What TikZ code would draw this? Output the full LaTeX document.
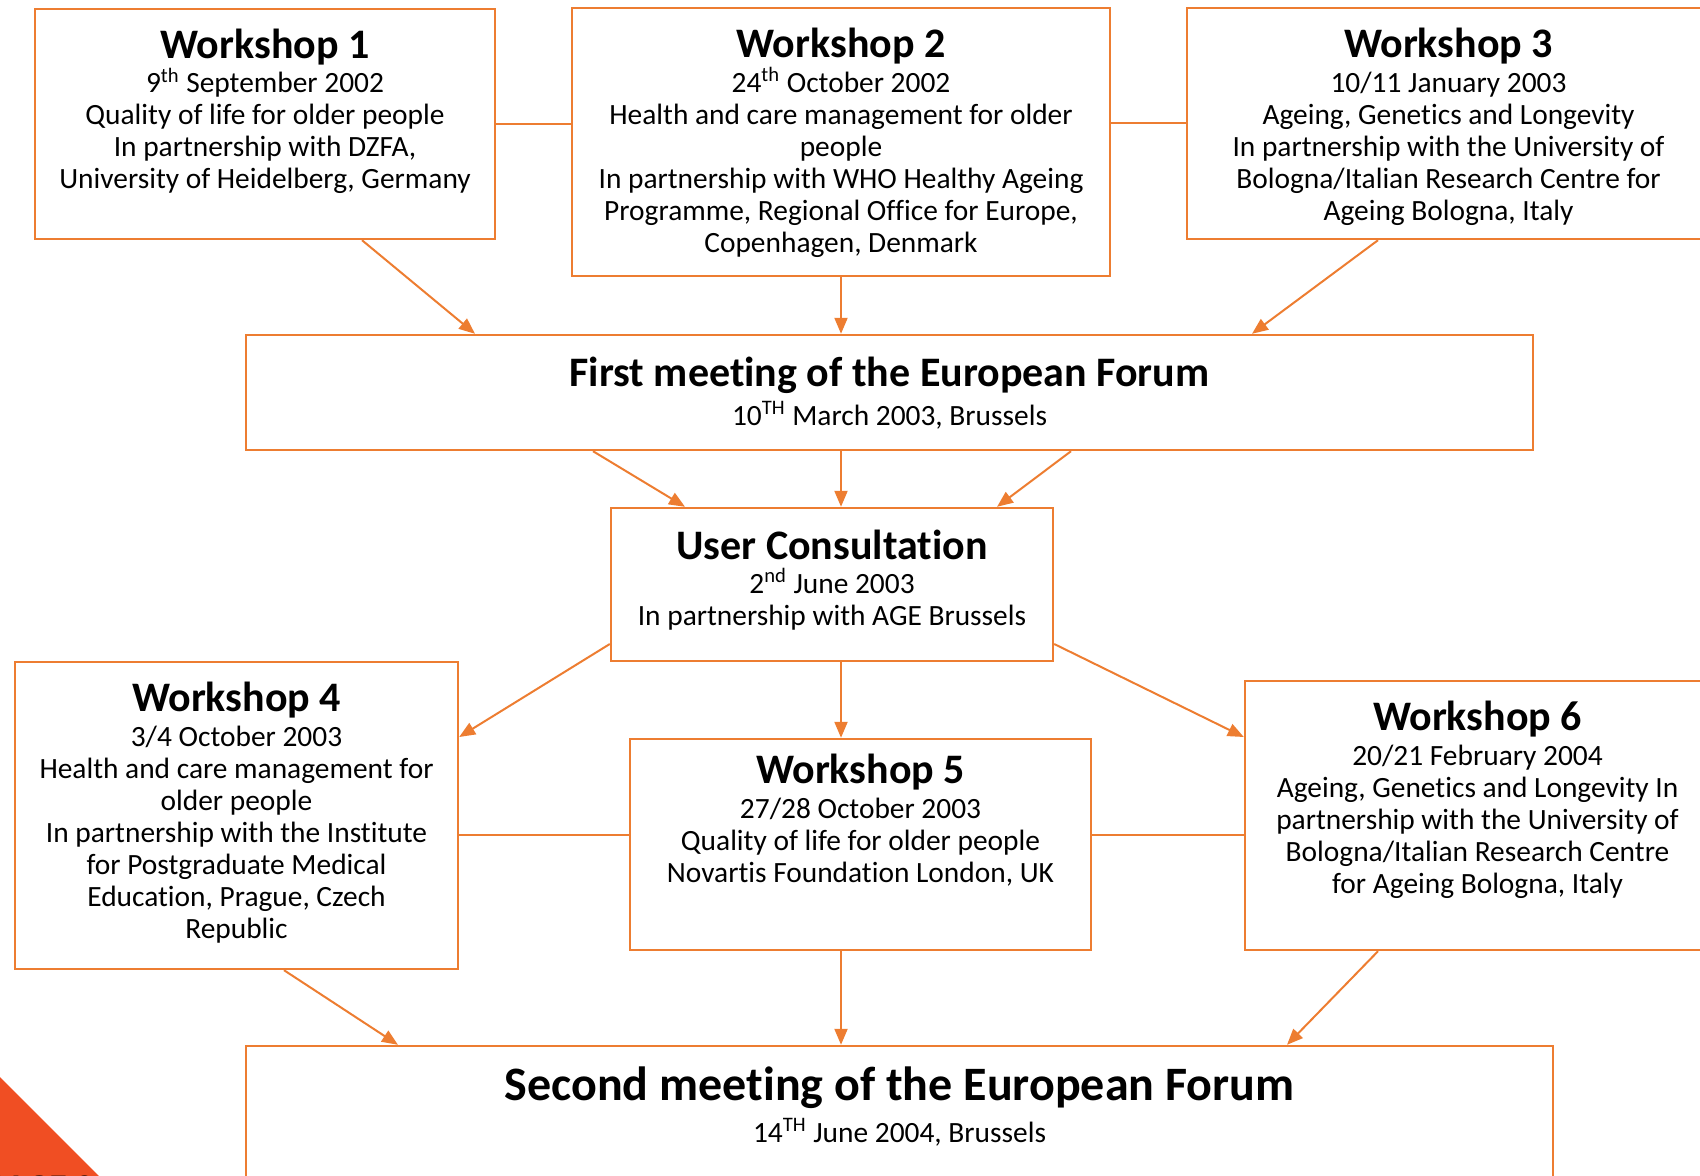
\documentclass[tikz,border=0pt]{standalone}
\usepackage{fontspec}
\setmainfont[Ligatures=NoCommon]{Carlito}
\usetikzlibrary{arrows.meta}
\definecolor{forumorange}{HTML}{ED7D31}
\definecolor{cornerred}{HTML}{F04E23}
\tikzset{
  box/.style={draw=forumorange, line width=1.2pt, fill=white, inner sep=0pt},
  info/.style={anchor=north, align=center, inner sep=0pt, font=\fontsize{14.7}{16}\selectfont},
  link/.style={draw=forumorange, line width=1pt},
  feed/.style={link, -{Triangle[length=8pt,width=6.5pt]}}
}
\newcommand{\wstitle}[1]{{\fontsize{21}{24}\selectfont\bfseries #1}}

\begin{document}
\begin{tikzpicture}[x=0.5pt,y=-0.5pt]
  \useasboundingbox (0,0) rectangle (1700,1176);
  \clip (0,0) rectangle (1700,1176);

  % Draw the corner mark
  \fill[cornerred] (0,1077) -- (99,1176) -- (0,1176) -- cycle;
  \node[anchor=north west, inner sep=0pt, font=\fontsize{18}{20}\selectfont\bfseries] (pagemark) at (-12,1175) {PAGE 2};

  % Draw the workshops before the first meeting
  \node[box, minimum width=230pt, minimum height=115pt] (w1) at (265,124) {};
  \node[box, minimum width=269pt, minimum height=134pt] (w2) at (841,142) {};
  \node[box, minimum width=261.5pt, minimum height=115.5pt] (w3) at (1448.5,123.5) {};
  \node[info] (w1text) at ([yshift=-10.5pt]w1.north) {\wstitle{Workshop 1}\\[1pt]9\textsuperscript{th} September 2002\\Quality of life for older people\\In partnership with DZFA,\\University of Heidelberg, Germany};
  \node[info] (w2text) at ([yshift=-10.3pt]w2.north) {\wstitle{Workshop 2}\\[1.5pt]24\textsuperscript{th} October 2002\\Health and care management for older\\people\\In partnership with WHO Healthy Ageing\\Programme, Regional Office for Europe,\\Copenhagen, Denmark};
  \node[info] (w3text) at ([yshift=-10.3pt]w3.north) {\wstitle{Workshop 3}\\[1.8pt]10/11 January 2003\\Ageing, Genetics and Longevity\\In partnership with the University of\\Bologna/Italian Research Centre for\\Ageing Bologna, Italy};

  % Draw the first meeting and the user consultation
  \node[box, minimum width=643.5pt, minimum height=57.5pt] (fm) at (889.5,392.5) {};
  \node[info] (fmtext) at ([yshift=-11.2pt]fm.north) {\wstitle{First meeting of the European Forum}\\[3.5pt]10\textsuperscript{TH} March 2003, Brussels};
  \node[box, minimum width=221pt, minimum height=76.5pt] (uc) at (832,584.5) {};
  \node[info] (uctext) at ([yshift=-11.2pt]uc.north) {\wstitle{User Consultation}\\[1pt]2\textsuperscript{nd} June 2003\\In partnership with AGE Brussels};

  % Draw the workshops before the second meeting
  \node[box, minimum width=221.5pt, minimum height=153.5pt] (w4) at (236.5,815.5) {};
  \node[box, minimum width=230.5pt, minimum height=105.5pt] (w5) at (860.5,844.5) {};
  \node[box, minimum width=232.5pt, minimum height=134.5pt] (w6) at (1477.5,815.5) {};
  \node[info] (w4text) at ([yshift=-10.3pt]w4.north) {\wstitle{Workshop 4}\\[1.5pt]3/4 October 2003\\Health and care management for\\older people\\In partnership with the Institute\\for Postgraduate Medical\\Education, Prague, Czech\\Republic};
  \node[info] (w5text) at ([yshift=-8pt]w5.north) {\wstitle{Workshop 5}\\[1.2pt]27/28 October 2003\\Quality of life for older people\\Novartis Foundation London, UK};
  \node[info] (w6text) at ([yshift=-10.3pt]w6.north) {\wstitle{Workshop 6}\\[1.8pt]20/21 February 2004\\Ageing, Genetics and Longevity In\\partnership with the University of\\Bologna/Italian Research Centre\\for Ageing Bologna, Italy};

  % Draw the second meeting
  \node[box, minimum width=653.5pt, minimum height=77pt] (sm) at (899.5,1123) {};
  \node[info] (smtext) at ([yshift=-10.6pt]sm.north) {{\fontsize{24}{28}\selectfont\bfseries Second meeting of the European Forum}\\[5pt]14\textsuperscript{TH} June 2004, Brussels};

  % Draw the links between workshops
  \draw[link] (w1.east) -- (w1.east -| w2.west);
  \draw[link] (w3.west -| w2.east) -- (w3.west);
  \draw[link] ([yshift=-9.75pt]w4.east) -- ([yshift=-9.75pt]w4.east -| w5.west);
  \draw[link] ([yshift=4.75pt]w5.east) -- ([yshift=4.75pt]w5.east -| w6.west);

  % Draw the arrows into the first meeting
  \draw[feed] ([xshift=48.5pt]w1.south) -- ([xshift=-207.25pt]fm.north);
  \draw[feed] (w2.south) -- (w2.south |- fm.north);
  \draw[feed] ([xshift=-35.25pt]w3.south) -- ([xshift=181.25pt]fm.north);

  % Draw the arrows into the user consultation
  \draw[feed] ([xshift=-148.25pt]fm.south) -- ([xshift=-73.5pt]uc.north);
  \draw[feed] ([xshift=4.5pt]uc.north |- fm.south) -- ([xshift=4.5pt]uc.north);
  \draw[feed] ([xshift=90.75pt]fm.south) -- ([xshift=82.5pt]uc.north);

  % Draw the arrows out of the user consultation
  \draw[feed] ([yshift=-29.75pt]uc.west) -- ([yshift=39.25pt]w4.east);
  \draw[feed] ([xshift=4.5pt]uc.south) -- ([xshift=4.5pt]uc.south |- w5.north);
  \draw[feed] ([yshift=-29.75pt]uc.east) -- ([yshift=39.25pt]w6.west);

  % Draw the arrows into the second meeting
  \draw[feed] ([xshift=23.75pt]w4.south) -- ([xshift=-250.75pt]sm.north);
  \draw[feed] ([xshift=-9.75pt]w5.south) -- ([xshift=-9.75pt]w5.south |- sm.north);
  \draw[feed] ([xshift=-49.75pt]w6.south) -- ([xshift=193.75pt]sm.north);
\end{tikzpicture}
\end{document}
